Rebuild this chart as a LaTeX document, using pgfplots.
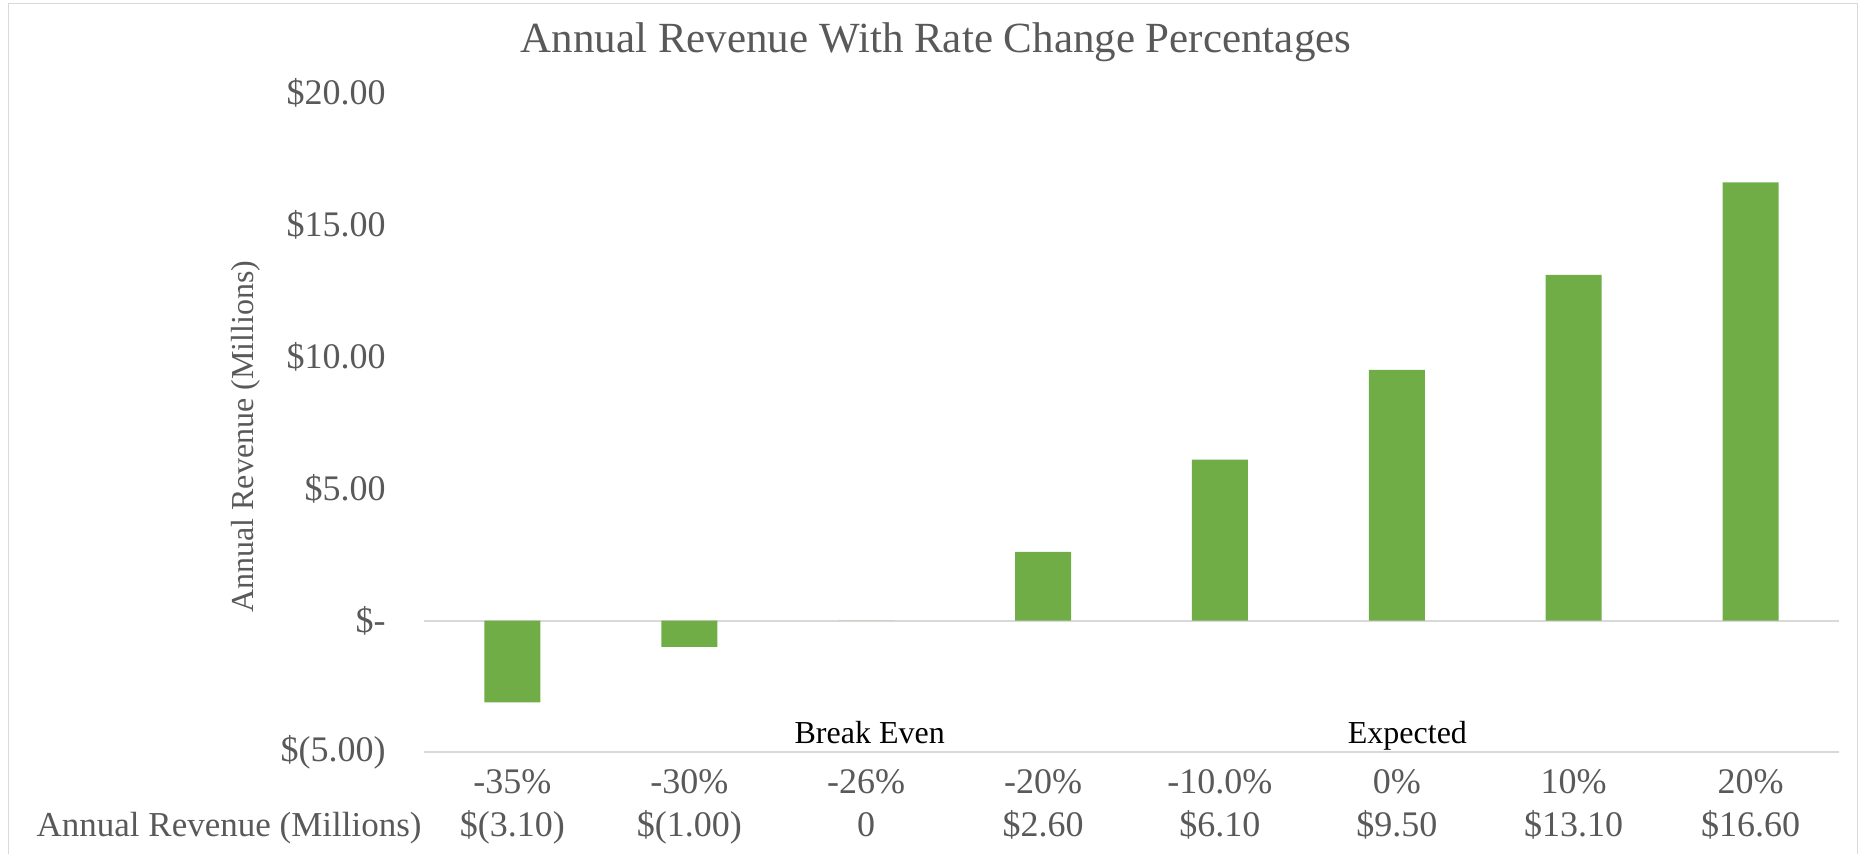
\documentclass[border=0pt]{standalone}
\usepackage{fontspec}
\setmainfont{Liberation Serif}
\usepackage{pgfplots}
\pgfplotsset{compat=1.18}
\definecolor{bargreen}{HTML}{70AD47}
\definecolor{txtgray}{HTML}{595959}
\definecolor{linegray}{HTML}{D9D9D9}
\begin{document}
\begin{tikzpicture}
\path[use as bounding box] (0,0) rectangle (932pt,427pt);
\draw[linegray, line width=0.8pt] (4.3pt,0pt) -- (4.3pt,425.2pt) -- (928.8pt,425.2pt) -- (928.8pt,0pt);
\node[anchor=base, inner sep=0pt, text=txtgray, font=\fontsize{21.5}{24}\selectfont] at (468pt,400.5pt) {Annual Revenue With Rate Change Percentages};
\node[anchor=base, rotate=90, inner sep=0pt, text=txtgray, font=\fontsize{16}{18}\selectfont] at (126.5pt,208.6pt) {Annual Revenue (Millions)};
\begin{axis}[
  at={(212pt,50.75pt)}, anchor=south west,
  scale only axis, width=707.5pt, height=329.9pt,
  xmin=-0.5, xmax=7.5, ymin=-5, ymax=20,
  axis x line=bottom, axis y line=left,
  axis line style={draw=none}, tick style={draw=none},
  major tick length=0pt,
  clip=false,
  xtick={0,1,2,3,4,5,6,7},
  xticklabels={-35\%,-30\%,-26\%,-20\%,-10.0\%,0\%,10\%,20\%},
  ytick={-5,0,5,10,15,20},
  yticklabels={\$(5.00),\$-,\$5.00,\$10.00,\$15.00,\$20.00},
  xticklabel style={anchor=base, inner sep=0pt, yshift=-20.75pt, text=txtgray, font=\fontsize{18}{20}\selectfont},
  yticklabel style={anchor=east, inner sep=0pt, xshift=-19pt, text=txtgray, font=\fontsize{18}{20}\selectfont},
]
\draw[linegray, line width=1pt] (axis cs:-0.5,-5) -- (axis cs:7.5,-5);
\draw[linegray, line width=1pt] (axis cs:-0.5,0) -- (axis cs:7.5,0);
\addplot[ybar, bar width=0.316, fill=bargreen, draw=none] coordinates {(0,-3.1) (1,-1.0) (2,0) (3,2.6) (4,6.1) (5,9.5) (6,13.1) (7,16.6)};
\node[anchor=base, inner sep=0pt, font=\fontsize{16}{18}\selectfont, yshift=4.25pt] at (axis cs:2.02,-5) {Break Even};
\node[anchor=base, inner sep=0pt, font=\fontsize{16}{18}\selectfont, yshift=4.25pt] at (axis cs:5.06,-5) {Expected};
\begin{scope}[every node/.style={anchor=base, inner sep=0pt, text=txtgray, font=\fontsize{18}{20}\selectfont, yshift=-42.25pt}]
\node at (axis cs:0,-5) {\$(3.10)};
\node at (axis cs:1,-5) {\$(1.00)};
\node at (axis cs:2,-5) {0};
\node at (axis cs:3,-5) {\$2.60};
\node at (axis cs:4,-5) {\$6.10};
\node at (axis cs:5,-5) {\$9.50};
\node at (axis cs:6,-5) {\$13.10};
\node at (axis cs:7,-5) {\$16.60};
\node[anchor=base east, xshift=-1pt, font=\fontsize{17.5}{20}\selectfont] at (axis cs:-0.5,-5) {Annual Revenue (Millions)};
\end{scope}
\end{axis}
\end{tikzpicture}
\end{document}
